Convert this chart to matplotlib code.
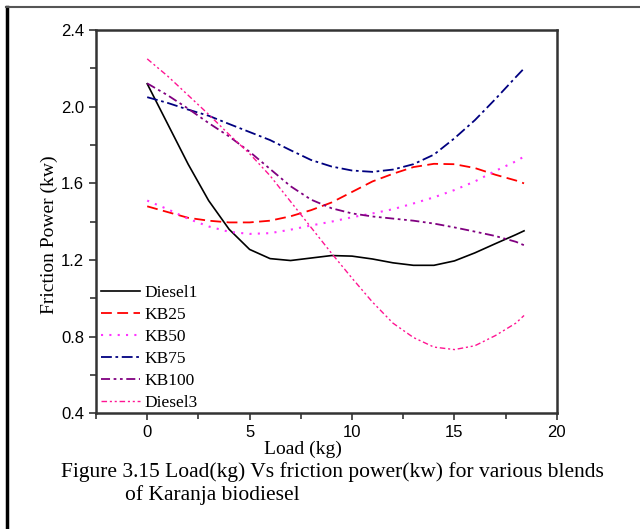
import numpy as np
import matplotlib
matplotlib.use('Agg')
import matplotlib.pyplot as plt
import matplotlib.ticker as mticker
from matplotlib.lines import Line2D

load = [0, 1, 2, 3, 4, 5, 6, 7, 8, 9, 10, 11, 12, 13, 14, 15, 16, 17, 18, 18.4]

diesel1 = [2.12, 1.91, 1.70, 1.51, 1.36, 1.255, 1.207, 1.197, 1.21, 1.223, 1.22, 1.205,
           1.185, 1.172, 1.172, 1.195, 1.237, 1.285, 1.332, 1.352]
kb25 = [1.48, 1.45, 1.42, 1.405, 1.396, 1.396, 1.405, 1.428, 1.46, 1.50, 1.555, 1.61,
        1.65, 1.685, 1.702, 1.70, 1.68, 1.645, 1.615, 1.60]
kb50 = [1.51, 1.465, 1.415, 1.375, 1.347, 1.336, 1.34, 1.358, 1.38, 1.40, 1.423, 1.443,
        1.465, 1.495, 1.527, 1.565, 1.61, 1.665, 1.715, 1.74]
kb75 = [2.05, 2.02, 1.985, 1.953, 1.91, 1.868, 1.826, 1.773, 1.722, 1.688, 1.667, 1.66,
        1.672, 1.70, 1.75, 1.835, 1.93, 2.04, 2.155, 2.20]
kb100 = [2.122, 2.06, 1.99, 1.915, 1.845, 1.765, 1.675, 1.585, 1.515, 1.47, 1.443, 1.427,
         1.416, 1.405, 1.39, 1.37, 1.348, 1.325, 1.295, 1.277]
diesel3 = [2.25, 2.16, 2.06, 1.96, 1.855, 1.755, 1.64, 1.505, 1.37, 1.235, 1.105, 0.98,
           0.87, 0.795, 0.745, 0.732, 0.752, 0.805, 0.87, 0.91]

series_names = ['Diesel1', 'KB25', 'KB50', 'KB75', 'KB100', 'Diesel3']
series_values = [diesel1, kb25, kb50, kb75, kb100, diesel3]

colors = ['black', '#FF0000', '#FF33FF', '#000080', '#800080', '#FF1493']
styles = ['-', (0, (6, 3)), (0, (1, 3)), (0, (6, 2, 1.5, 2)),
          (0, (5, 2, 1.5, 2, 1.5, 2)), (0, (4, 2, 1.5, 2, 1.5, 2))]
widths = [1.2, 1.3, 1.5, 1.3, 1.3, 1.0]

serif = 'Liberation Serif'
sans = 'Liberation Sans'

fig = plt.figure(figsize=(6.4, 5.29), dpi=100)
ax = fig.add_axes([0.150, 0.219, 0.720, 0.724])

for name, vals, c, ls, lw in zip(series_names, series_values, colors, styles, widths):
    ax.plot(load, vals, color=c, linestyle=ls, linewidth=lw, label=name)

ax.set_xlim(-2.5, 20)
ax.set_ylim(0.4, 2.4)
ax.xaxis.set_major_locator(mticker.MultipleLocator(5))
ax.xaxis.set_minor_locator(mticker.MultipleLocator(2.5))
ax.yaxis.set_major_locator(mticker.MultipleLocator(0.4))
ax.yaxis.set_minor_locator(mticker.MultipleLocator(0.2))
ax.yaxis.set_major_formatter(mticker.FormatStrFormatter('%.1f'))
ax.tick_params(which='both', direction='out', top=False, right=False, width=1.2, color='#333333')
ax.tick_params(which='major', length=5, labelsize=12)
ax.tick_params(which='minor', length=4)
for lab in ax.get_xticklabels() + ax.get_yticklabels():
    lab.set_fontfamily(sans)
for sp in ax.spines.values():
    sp.set_linewidth(1.8)
    sp.set_color('#333333')

ax.set_xlabel('Load (kg)', fontfamily=serif, fontsize=14)
ax.xaxis.set_label_coords(0.449, -0.071)
ax.set_ylabel('Friction Power (kw)', fontfamily=serif, fontsize=14)
ax.yaxis.set_label_coords(-0.083, 0.465)

leg = ax.legend(loc='lower left', frameon=False, prop={'family': serif, 'size': 12.5},
                handlelength=2.25, handletextpad=0.3, labelspacing=0.33,
                borderaxespad=0.0, bbox_to_anchor=(-0.005, -0.012))

fig.text(0.096, 0.108, 'Figure 3.15 Load(kg) Vs friction power(kw) for various blends',
         fontfamily=serif, fontsize=15.5, ha='left', va='center')
fig.text(0.195, 0.064, 'of Karanja biodiesel',
         fontfamily=serif, fontsize=15.5, ha='left', va='center')

# page frame
fig.add_artist(Line2D([0.011, 0.011], [0.0, 0.987], transform=fig.transFigure,
                      color='black', linewidth=2.5))
fig.add_artist(Line2D([0.009, 1.0], [0.987, 0.987], transform=fig.transFigure,
                      color='#555555', linewidth=1.5))

plt.savefig('out.png', dpi=100)
